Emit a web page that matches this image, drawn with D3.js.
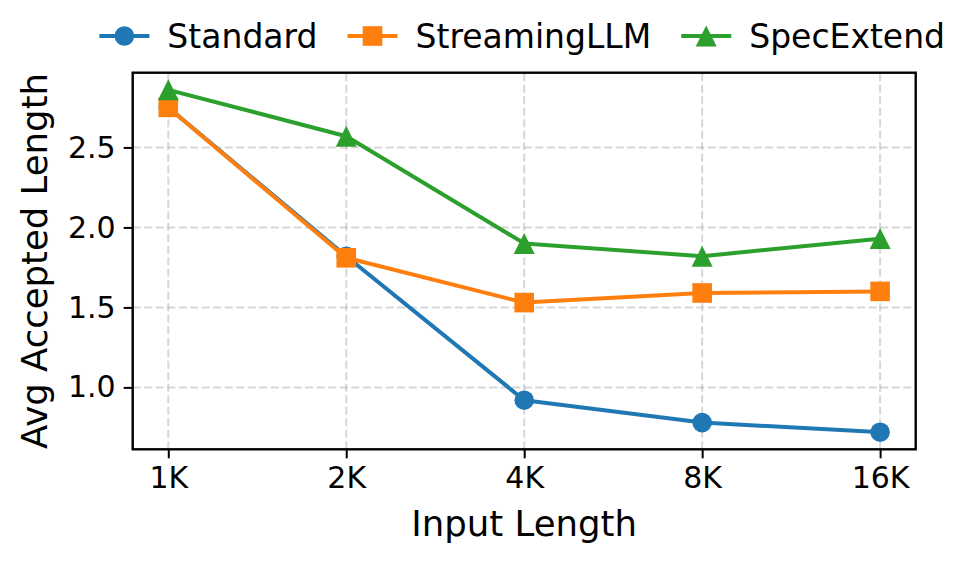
<!DOCTYPE html>
<html>
<head>
<meta charset="utf-8">
<script src="https://cdn.jsdelivr.net/npm/d3@7"></script>
<style>
  body { margin: 0; background: #fff; }
  svg { display: block; font-family: "DejaVu Sans", sans-serif; }
</style>
</head>
<body>
<div id="chart"></div>
<script>
'use strict';

// 数据
const categories = ['1K', '2K', '4K', '8K', '16K'];
const seriesNames = ['Standard', 'StreamingLLM', 'SpecExtend'];
const standard = [2.75, 1.82, 0.92, 0.78, 0.72];
const streamingLLM = [2.75, 1.81, 1.53, 1.59, 1.60];
const specExtend = [2.86, 2.57, 1.90, 1.82, 1.93];
const yTicks = [1.0, 1.5, 2.0, 2.5];

(function () {
    const width = 970;
    const height = 564;
    const margin = { left: 132.7, right: 970 - 915.7, top: 72.7, bottom: 564 - 449.3 };
    const colors = ['#1f77b4', '#ff7f0e', '#2ca02c'];
    const shapes = ['circle', 'square', 'triangle'];
    const allSeries = [standard, streamingLLM, specExtend];

    var svg = d3.select('#chart').append('svg')
        .attr('width', width)
        .attr('height', height);

    // matplotlib 风格的 5% 边距
    var all = allSeries.flat();
    var yMin = d3.min(all), yMax = d3.max(all);
    var pad = (yMax - yMin) * 0.05;

    var x = d3.scaleLinear()
        .domain([-0.2, categories.length - 1 + 0.2])
        .range([margin.left, width - margin.right]);
    var y = d3.scaleLinear()
        .domain([yMin - pad, yMax + pad])
        .range([height - margin.bottom, margin.top]);

    var x0 = margin.left, x1 = width - margin.right;
    var y0 = height - margin.bottom, y1 = margin.top;

    // 网格
    var grid = svg.append('g')
        .attr('stroke', '#b0b0b0')
        .attr('stroke-opacity', 0.5)
        .attr('stroke-width', 2)
        .attr('stroke-dasharray', '8,3.5');
    categories.forEach(function (c, i) {
        grid.append('line')
            .attr('x1', x(i)).attr('x2', x(i))
            .attr('y1', y0).attr('y2', y1);
    });
    yTicks.forEach(function (t) {
        grid.append('line')
            .attr('x1', x0).attr('x2', x1)
            .attr('y1', y(t)).attr('y2', y(t));
    });

    // 轴
    var xAxis = d3.axisBottom(x)
        .tickValues(d3.range(categories.length))
        .tickFormat(function (i) { return categories[i]; })
        .tickSize(9).tickPadding(8);
    var yAxis = d3.axisLeft(y)
        .tickValues(yTicks)
        .tickFormat(d3.format('.1f'))
        .tickSize(9).tickPadding(8);

    var gx = svg.append('g')
        .attr('transform', 'translate(0,' + y0 + ')')
        .call(xAxis);
    var gy = svg.append('g')
        .attr('transform', 'translate(' + x0 + ',0)')
        .call(yAxis);
    [gx, gy].forEach(function (g) {
        g.select('.domain').remove();
        g.selectAll('.tick line').attr('stroke', '#000').attr('stroke-width', 2);
        g.selectAll('.tick text')
            .attr('fill', '#000')
            .style('font-size', '30px')
            .style('font-family', '"DejaVu Sans", sans-serif');
    });

    // 折线和标记
    var line = d3.line()
        .x(function (d, i) { return x(i); })
        .y(function (d) { return y(d); });

    function drawMarker(g, shape, cx, cy, color) {
        if (shape === 'circle') {
            g.append('circle').attr('cx', cx).attr('cy', cy).attr('r', 9.8).attr('fill', color);
        } else if (shape === 'square') {
            g.append('rect').attr('x', cx - 9.8).attr('y', cy - 9.8)
                .attr('width', 19.6).attr('height', 19.6).attr('fill', color);
        } else {
            g.append('path')
                .attr('d', 'M' + cx + ',' + (cy - 10.5) + 'L' + (cx + 10.5) + ',' + (cy + 10.5) +
                    'L' + (cx - 10.5) + ',' + (cy + 10.5) + 'Z')
                .attr('fill', color);
        }
    }

    allSeries.forEach(function (values, s) {
        var g = svg.append('g');
        g.append('path')
            .datum(values)
            .attr('d', line)
            .attr('fill', 'none')
            .attr('stroke', colors[s])
            .attr('stroke-width', 4)
            .attr('stroke-linejoin', 'round')
            .attr('stroke-linecap', 'square');
        values.forEach(function (v, i) {
            drawMarker(g, shapes[s], x(i), y(v), colors[s]);
        });
    });

    // 边框
    svg.append('rect')
        .attr('x', x0).attr('y', y1)
        .attr('width', x1 - x0).attr('height', y0 - y1)
        .attr('fill', 'none')
        .attr('stroke', '#000')
        .attr('stroke-width', 2.4);

    // 轴标题
    svg.append('text')
        .attr('x', (x0 + x1) / 2)
        .attr('y', 536)
        .attr('text-anchor', 'middle')
        .style('font-size', '35.5px')
        .text('Input Length');
    svg.append('text')
        .attr('transform', 'translate(47,' + ((y0 + y1) / 2) + ') rotate(-90)')
        .attr('text-anchor', 'middle')
        .style('font-size', '35.5px')
        .text('Avg Accepted Length');

    // 图例
    var legend = svg.append('g');
    var lx = 0;
    seriesNames.forEach(function (name, s) {
        var item = legend.append('g').attr('transform', 'translate(' + lx + ',0)');
        item.append('line')
            .attr('x1', 0).attr('x2', 50)
            .attr('y1', 36).attr('y2', 36)
            .attr('stroke', colors[s]).attr('stroke-width', 4);
        drawMarker(item, shapes[s], 25, 36, colors[s]);
        var t = item.append('text')
            .attr('x', 68).attr('y', 48)
            .style('font-size', '33px')
            .text(name);
        lx += 68 + t.node().getComputedTextLength() + 30;
    });
    var legendWidth = lx - 30;
    legend.attr('transform', 'translate(' + ((x0 + x1) / 2 - legendWidth / 2 - 2) + ',0)');
})();
</script>
</body>
</html>
